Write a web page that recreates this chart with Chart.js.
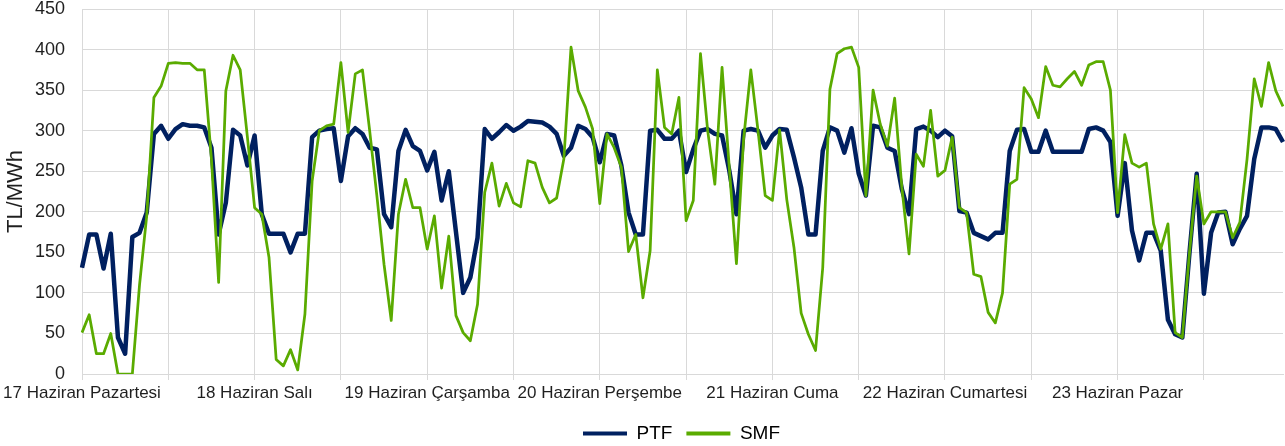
<!DOCTYPE html>
<html>
<head>
<meta charset="utf-8">
<title>PTF / SMF</title>
<script src="https://cdn.jsdelivr.net/npm/chart.js@4/dist/chart.umd.min.js"></script>
<style>
	html, body { margin: 0; padding: 0; background: #fff; }
	.chart-box { width: 1285px; height: 446px; }
</style>
</head>
<body>
<div class="chart-box"><canvas id="chart"></canvas></div>
<script>
// day names shown on the x axis, one per 24 hours
const day_labels = ['17 Haziran Pazartesi', '18 Haziran Salı', '19 Haziran Çarşamba', '20 Haziran Perşembe',
	'21 Haziran Cuma', '22 Haziran Cumartesi', '23 Haziran Pazar'];

// hourly prices, TL/MWh
const ptf_values = [
	131, 172, 172, 130, 173, 45, 25, 169, 174, 199, 296, 306,
	290, 302, 308, 306, 306, 304, 279, 172, 211, 301, 294, 257,
	294, 197, 173, 173, 173, 150, 173, 173, 292, 300, 302, 303,
	238, 293, 303, 296, 279, 277, 197, 181, 275, 301, 281, 275,
	251, 274, 214, 250, 175, 100, 119, 168, 302, 290, 298, 307,
	300, 305, 312, 311, 310, 305, 296, 269, 279, 306, 302, 292,
	261, 296, 294, 257, 199, 172, 172, 300, 301, 290, 290, 300,
	249, 277, 300, 302, 296, 294, 251, 197, 300, 302, 300, 279,
	294, 302, 301, 267, 230, 172, 172, 275, 304, 300, 273, 303,
	247, 220, 306, 304, 279, 275, 228, 197, 302, 305, 300, 292,
	300, 293, 201, 199, 174, 170, 166, 174, 174, 275, 301, 302,
	274, 274, 300, 274, 274, 274, 274, 274, 302, 304, 300, 286,
	195, 260, 177, 140, 174, 174, 152, 67, 49, 45, 150, 247,
	99, 174, 199, 200, 160, 179, 195, 265, 304, 304, 302, 286
];

const smf_values = [
	51, 73, 25, 25, 50, 0, 0, 0, 110, 195, 341, 355,
	383, 384, 383, 383, 375, 375, 265, 113, 349, 393, 375, 292,
	205, 197, 144, 18, 10, 30, 5, 74, 238, 300, 306, 308,
	384, 298, 370, 375, 300, 220, 135, 66, 197, 240, 205, 205,
	154, 195, 106, 170, 72, 51, 41, 86, 224, 260, 207, 235,
	211, 206, 263, 260, 230, 211, 217, 265, 403, 349, 329, 302,
	210, 296, 279, 255, 151, 172, 94, 152, 375, 304, 296, 341,
	189, 214, 395, 300, 234, 378, 255, 136, 290, 375, 300, 220,
	214, 301, 215, 156, 75, 49, 29, 131, 351, 395, 401, 403,
	378, 220, 350, 308, 281, 340, 230, 148, 271, 256, 325, 244,
	251, 292, 205, 199, 123, 120, 76, 63, 100, 234, 240, 353,
	339, 316, 379, 356, 354, 364, 373, 356, 381, 385, 385, 350,
	199, 295, 260, 255, 260, 185, 154, 185, 51, 45, 150, 244,
	185, 200, 200, 200, 168, 187, 265, 364, 330, 384, 349, 330
];

// y axis settings
const y_min = 0, y_max = 450, y_step = 50;

// one category per hour, the day name sits on the first hour of each day
let hour_labels = [];
day_labels.forEach(day => {
	for (let h = 0; h < 24; h++) {
		hour_labels.push(h === 0 ? day : '');
	}
});

const grid_color = '#d9d9d9';
const text_color = '#1f1f1f';

Chart.defaults.font.family = '"Liberation Sans", Arial, sans-serif';
Chart.defaults.color = text_color;

// the legend in the picture is centred on the plot area, not on the whole canvas
const legendShift = {
	id: 'legendShift',
	afterLayout(chart) {
		if (chart.legend) {
			chart.legend.left += 40;
			chart.legend.right += 40;
		}
	}
};

const ctx = document.getElementById('chart').getContext('2d');

new Chart(ctx, {
	type: 'line',
	data: {
		labels: hour_labels,
		datasets: [{
			label: 'PTF',
			data: ptf_values,
			borderColor: '#002060',
			backgroundColor: '#002060',
			borderWidth: 4.5,
			pointRadius: 0,
			tension: 0,
			borderJoinStyle: 'round',
			order: 1
		}, {
			label: 'SMF',
			data: smf_values,
			borderColor: '#5aab00',
			backgroundColor: '#5aab00',
			borderWidth: 2.75,
			pointRadius: 0,
			tension: 0,
			borderJoinStyle: 'round',
			order: 0
		}]
	},
	plugins: [legendShift],
	options: {
		responsive: true,
		maintainAspectRatio: false,
		animation: false,
		layout: {
			padding: { top: 9, right: 2, left: 0, bottom: -7 }
		},
		plugins: {
			tooltip: { enabled: false },
			legend: {
				position: 'bottom',
				labels: {
					boxWidth: 44,
					boxHeight: 4,
					padding: 14,
					font: { size: 19 },
					color: text_color,
					sort: (a, b) => a.datasetIndex - b.datasetIndex,
					generateLabels: chart => chart.data.datasets.map((ds, i) => ({
						text: ds.label,
						fillStyle: ds.borderColor,
						strokeStyle: ds.borderColor,
						lineWidth: 0,
						datasetIndex: i,
						hidden: false
					}))
				}
			}
		},
		scales: {
			x: {
				type: 'category',
				offset: false,
				grid: {
					color: c => (c.index % 12 === 0 ? grid_color : 'rgba(0,0,0,0)'),
					lineWidth: 1,
					tickLength: 6,
					drawOnChartArea: true
				},
				border: { color: grid_color },
				ticks: {
					autoSkip: false,
					maxRotation: 0,
					minRotation: 0,
					padding: 3,
					font: { size: 17 },
					color: text_color,
					callback: function (value, index) {
						return hour_labels[index];
					}
				},
				afterFit: s => { s.paddingLeft = 0; s.paddingRight = 0; s.height = 36; }
			},
			y: {
				min: y_min,
				max: y_max,
				grid: {
					color: grid_color,
					lineWidth: 1,
					drawTicks: false
				},
				border: { color: grid_color },
				ticks: {
					stepSize: y_step,
					padding: 17,
					font: { size: 18 },
					color: text_color
				},
				title: {
					display: true,
					text: 'TL/MWh',
					font: { size: 22 },
					color: text_color,
					padding: { top: 3, bottom: 0 }
				},
				afterFit: s => { s.width = 82; s.paddingTop = 0; s.paddingBottom = 0; }
			}
		}
	}
});
</script>
</body>
</html>
